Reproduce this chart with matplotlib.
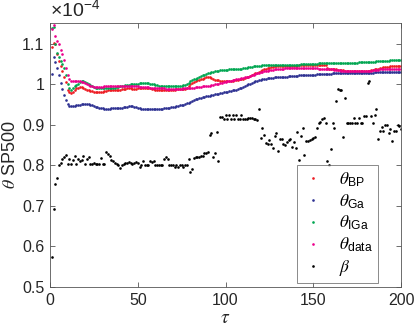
import matplotlib
matplotlib.use('Agg')
import matplotlib.pyplot as plt
import numpy as np

# tau axis: one estimate per window length 1..200 (values in units of 1e-4)
tau = np.arange(1, 201)

theta_bp = [
    1.093, 1.102, 1.100, 1.075, 1.058, 1.045, 1.032, 1.019, 1.006, 0.985,
    0.980, 0.978, 0.982, 0.986, 0.990, 0.992, 0.993, 0.993, 0.991, 0.989,
    0.987, 0.985, 0.984, 0.983, 0.982, 0.982, 0.981, 0.981, 0.982, 0.982,
    0.983, 0.984, 0.985, 0.985, 0.986, 0.986, 0.986, 0.986, 0.987, 0.987,
    0.988, 0.988, 0.989, 0.990, 0.990, 0.990, 0.989, 0.988, 0.989, 0.990,
    0.991, 0.991, 0.990, 0.990, 0.990, 0.990, 0.990, 0.989, 0.988, 0.987,
    0.987, 0.987, 0.987, 0.986, 0.986, 0.986, 0.987, 0.987, 0.987, 0.987,
    0.987, 0.988, 0.988, 0.988, 0.988, 0.988, 0.989, 0.992, 0.996, 1.000,
    1.003, 1.006, 1.008, 1.010, 1.011, 1.013, 1.014, 1.016, 1.017, 1.018,
    1.019, 1.016, 1.013, 1.011, 1.010, 1.010, 1.009, 1.009, 1.008, 1.008,
    1.008, 1.008, 1.009, 1.009, 1.010, 1.011, 1.011, 1.012, 1.013, 1.014,
    1.015, 1.017, 1.019, 1.021, 1.023, 1.025, 1.027, 1.029, 1.031, 1.033,
    1.035, 1.037, 1.039, 1.040, 1.041, 1.042, 1.043, 1.044, 1.045, 1.045,
    1.046, 1.046, 1.046, 1.046, 1.046, 1.046, 1.046, 1.046, 1.046, 1.046,
    1.046, 1.047, 1.047, 1.047, 1.047, 1.047, 1.047, 1.047, 1.047, 1.047,
    1.047, 1.047, 1.047, 1.047, 1.047, 1.047, 1.047, 1.040, 1.039, 1.038,
    1.038, 1.037, 1.037, 1.036, 1.036, 1.035, 1.035, 1.034, 1.034, 1.034,
    1.033, 1.033, 1.033, 1.033, 1.033, 1.033, 1.033, 1.033, 1.033, 1.033,
    1.034, 1.034, 1.035, 1.036, 1.037, 1.038, 1.039, 1.040, 1.041, 1.042,
    1.042, 1.043, 1.043, 1.044, 1.044, 1.044, 1.044, 1.044, 1.044, 1.044]

theta_ga = [
    1.026, 1.067, 1.056, 1.040, 1.023, 1.003, 0.988, 0.974, 0.962, 0.952,
    0.947, 0.946, 0.946, 0.947, 0.948, 0.949, 0.950, 0.951, 0.952, 0.952,
    0.952, 0.951, 0.950, 0.948, 0.946, 0.944, 0.943, 0.942, 0.941, 0.941,
    0.940, 0.940, 0.940, 0.940, 0.941, 0.941, 0.941, 0.941, 0.941, 0.941,
    0.942, 0.943, 0.944, 0.945, 0.946, 0.946, 0.946, 0.945, 0.943, 0.942,
    0.941, 0.940, 0.940, 0.940, 0.940, 0.940, 0.940, 0.940, 0.940, 0.940,
    0.940, 0.940, 0.940, 0.940, 0.941, 0.941, 0.942, 0.942, 0.943, 0.944,
    0.945, 0.946, 0.947, 0.948, 0.949, 0.950, 0.951, 0.953, 0.955, 0.957,
    0.959, 0.961, 0.963, 0.964, 0.966, 0.967, 0.968, 0.969, 0.970, 0.971,
    0.972, 0.973, 0.974, 0.975, 0.976, 0.977, 0.978, 0.979, 0.980, 0.981,
    0.982, 0.983, 0.984, 0.985, 0.986, 0.987, 0.988, 0.990, 0.992, 0.994,
    0.996, 0.998, 1.000, 1.002, 1.004, 1.006, 1.007, 1.008, 1.010, 1.011,
    1.012, 1.013, 1.014, 1.015, 1.015, 1.016, 1.016, 1.017, 1.017, 1.018,
    1.018, 1.018, 1.019, 1.019, 1.019, 1.020, 1.020, 1.020, 1.021, 1.021,
    1.021, 1.022, 1.022, 1.022, 1.023, 1.023, 1.023, 1.024, 1.024, 1.024,
    1.024, 1.025, 1.025, 1.025, 1.025, 1.026, 1.026, 1.026, 1.026, 1.026,
    1.027, 1.027, 1.027, 1.027, 1.027, 1.027, 1.028, 1.028, 1.028, 1.028,
    1.028, 1.028, 1.028, 1.028, 1.029, 1.029, 1.029, 1.029, 1.029, 1.029,
    1.029, 1.029, 1.029, 1.029, 1.030, 1.030, 1.030, 1.030, 1.030, 1.030,
    1.030, 1.030, 1.030, 1.030, 1.030, 1.031, 1.031, 1.031, 1.031, 1.031]

theta_iga = [
    1.140, 1.142, 1.100, 1.077, 1.068, 1.058, 1.050, 1.040, 1.022, 1.000,
    0.990, 0.985, 0.990, 0.995, 0.999, 1.002, 1.005, 1.007, 1.007, 1.006,
    1.004, 1.001, 0.998, 0.996, 0.994, 0.992, 0.991, 0.990, 0.990, 0.990,
    0.990, 0.991, 0.991, 0.992, 0.992, 0.992, 0.992, 0.993, 0.994, 0.995,
    0.996, 0.997, 0.998, 0.999, 0.999, 1.000, 1.000, 1.000, 1.001, 1.002,
    1.003, 1.003, 1.003, 1.003, 1.003, 1.003, 1.002, 1.001, 1.000, 0.999,
    0.998, 0.997, 0.997, 0.996, 0.996, 0.996, 0.996, 0.996, 0.996, 0.996,
    0.996, 0.996, 0.996, 0.997, 0.997, 0.998, 0.999, 1.001, 1.004, 1.007,
    1.010, 1.012, 1.014, 1.016, 1.018, 1.020, 1.022, 1.024, 1.026, 1.028,
    1.029, 1.030, 1.031, 1.032, 1.033, 1.034, 1.035, 1.035, 1.036, 1.036,
    1.036, 1.037, 1.037, 1.037, 1.038, 1.038, 1.038, 1.039, 1.039, 1.040,
    1.040, 1.041, 1.042, 1.043, 1.043, 1.044, 1.045, 1.045, 1.046, 1.046,
    1.047, 1.047, 1.048, 1.048, 1.048, 1.048, 1.048, 1.048, 1.048, 1.048,
    1.048, 1.048, 1.048, 1.048, 1.048, 1.048, 1.048, 1.048, 1.048, 1.048,
    1.048, 1.048, 1.049, 1.049, 1.049, 1.050, 1.050, 1.050, 1.051, 1.051,
    1.051, 1.051, 1.052, 1.052, 1.052, 1.052, 1.052, 1.052, 1.052, 1.052,
    1.052, 1.052, 1.052, 1.052, 1.052, 1.052, 1.052, 1.052, 1.052, 1.052,
    1.052, 1.052, 1.053, 1.053, 1.053, 1.054, 1.054, 1.054, 1.054, 1.055,
    1.055, 1.055, 1.056, 1.056, 1.056, 1.057, 1.057, 1.057, 1.057, 1.058,
    1.058, 1.058, 1.058, 1.059, 1.059, 1.059, 1.059, 1.060, 1.060, 1.060]

theta_data = [
    1.137, 1.147, 1.120, 1.108, 1.100, 1.085, 1.075, 1.060, 1.040, 1.022,
    1.012, 1.008, 1.007, 1.007, 1.007, 1.007, 1.007, 1.006, 1.005, 1.003,
    1.001, 0.999, 0.997, 0.995, 0.994, 0.993, 0.993, 0.993, 0.993, 0.994,
    0.995, 0.996, 0.997, 0.997, 0.997, 0.997, 0.997, 0.997, 0.997, 0.997,
    0.997, 0.997, 0.997, 0.996, 0.996, 0.996, 0.996, 0.996, 0.995, 0.995,
    0.994, 0.994, 0.993, 0.993, 0.993, 0.993, 0.992, 0.992, 0.991, 0.991,
    0.990, 0.990, 0.990, 0.990, 0.990, 0.989, 0.989, 0.989, 0.989, 0.989,
    0.989, 0.989, 0.989, 0.989, 0.989, 0.990, 0.990, 0.990, 0.991, 0.991,
    0.992, 0.992, 0.993, 0.993, 0.994, 0.994, 0.995, 0.995, 0.996, 0.996,
    0.997, 0.998, 0.999, 1.000, 1.001, 1.002, 1.003, 1.004, 1.005, 1.006,
    1.007, 1.008, 1.009, 1.010, 1.011, 1.012, 1.013, 1.014, 1.015, 1.016,
    1.017, 1.018, 1.019, 1.021, 1.022, 1.024, 1.026, 1.027, 1.029, 1.030,
    1.031, 1.032, 1.033, 1.034, 1.035, 1.036, 1.036, 1.037, 1.037, 1.038,
    1.038, 1.039, 1.039, 1.040, 1.040, 1.041, 1.041, 1.041, 1.041, 1.041,
    1.041, 1.041, 1.041, 1.041, 1.041, 1.041, 1.041, 1.040, 1.040, 1.040,
    1.040, 1.040, 1.039, 1.039, 1.039, 1.039, 1.039, 1.038, 1.038, 1.037,
    1.037, 1.036, 1.036, 1.035, 1.035, 1.034, 1.034, 1.034, 1.033, 1.033,
    1.033, 1.033, 1.033, 1.033, 1.033, 1.033, 1.033, 1.033, 1.033, 1.033,
    1.033, 1.034, 1.034, 1.035, 1.035, 1.036, 1.036, 1.037, 1.037, 1.038,
    1.038, 1.038, 1.039, 1.039, 1.039, 1.039, 1.039, 1.039, 1.039, 1.039]

beta = [
    0.573, 0.692, 0.753, 0.770, 0.800, 0.805, 0.815, 0.820, 0.826, 0.804,
    0.815, 0.804, 0.814, 0.823, 0.804, 0.815, 0.810, 0.814, 0.823, 0.804,
    0.815, 0.820, 0.804, 0.804, 0.807, 0.804, 0.804, 0.804, 0.818, 0.804,
    0.804, 0.832, 0.829, 0.822, 0.814, 0.810, 0.807, 0.804, 0.802, 0.793,
    0.800, 0.804, 0.805, 0.807, 0.808, 0.807, 0.804, 0.805, 0.808, 0.805,
    0.797, 0.802, 0.810, 0.800, 0.800, 0.800, 0.810, 0.808, 0.810, 0.800,
    0.800, 0.800, 0.800, 0.800, 0.815, 0.820, 0.815, 0.800, 0.800, 0.800,
    0.797, 0.800, 0.797, 0.800, 0.800, 0.797, 0.800, 0.800, 0.815, 0.783,
    0.790, 0.818, 0.820, 0.820, 0.820, 0.822, 0.822, 0.830, 0.830, 0.832,
    0.874, 0.880, 0.820, 0.830, 0.882, 0.810, 0.920, 0.920, 0.915, 0.925,
    0.915, 0.925, 0.915, 0.925, 0.915, 0.925, 0.915, 0.915, 0.925, 0.915,
    0.915, 0.915, 0.916, 0.916, 0.916, 0.915, 0.914, 0.913, 0.939, 0.867,
    0.892, 0.874, 0.855, 0.853, 0.863, 0.853, 0.842, 0.873, 0.881, 0.836,
    0.866, 0.866, 0.853, 0.851, 0.857, 0.862, 0.866, 0.845, 0.857, 0.843,
    0.883, 0.814, 0.873, 0.892, 0.826, 0.859, 0.861, 0.863, 0.865, 0.867,
    0.871, 0.893, 0.904, 0.908, 0.914, 0.917, 0.905, 0.810, 0.800, 0.840,
    0.904, 0.893, 0.960, 0.988, 0.985, 0.985, 0.869, 0.966, 0.904, 0.904,
    0.904, 0.904, 0.918, 0.904, 0.904, 0.918, 0.904, 0.904, 0.922, 0.922,
    1.004, 1.009, 0.922, 0.904, 0.925, 0.939, 0.865, 0.884, 0.895, 0.884,
    0.900, 0.899, 0.879, 0.889, 0.859, 0.885, 0.884, 0.900, 0.896, 0.890]

labels = [r'$\mathit{\theta}_{\mathrm{BP}}$', r'$\mathit{\theta}_{\mathrm{Ga}}$',
          r'$\mathit{\theta}_{\mathrm{IGa}}$', r'$\mathit{\theta}_{\mathrm{data}}$',
          r'$\mathit{\beta}$']
colors = ['#ed1c24', '#2e3192', '#00a651', '#ec008c', 'black']

plt.rcParams['font.family'] = ['Liberation Sans', 'DejaVu Sans']
plt.rcParams['mathtext.fontset'] = 'custom'
plt.rcParams['mathtext.rm'] = 'Liberation Sans'
plt.rcParams['mathtext.it'] = 'STIXGeneral:italic'

txt = '#262626'
fig = plt.figure(figsize=(4.15, 3.33), dpi=100)
ax = fig.add_axes([0.1205, 0.1381, 0.8458, 0.7937])

for y, c, lab in zip([theta_bp, theta_ga, theta_iga, theta_data, beta], colors, labels):
    ax.plot(tau, y, '.', color=c, ms=3.8, mew=0, label=lab)

ax.set_xlim(0, 200)
ax.set_ylim(0.5, 1.152)
ax.set_xticks([0, 50, 100, 150, 200])
ax.set_yticks([0.5, 0.6, 0.7, 0.8, 0.9, 1.0, 1.1])
ax.yaxis.set_major_formatter(plt.FuncFormatter(lambda v, p: f'{v:g}'))
ax.tick_params(direction='in', top=True, right=True, length=3.5, width=0.6,
               labelsize=11.5, colors=txt, color='#555555', pad=4)
for s in ax.spines.values():
    s.set_color('#555555')
    s.set_linewidth(0.6)

ax.set_xlabel(r'$\mathit{\tau}$', fontsize=14, color=txt, labelpad=2)
ax.set_ylabel(r'$\mathit{\theta}$ SP500', fontsize=13, color=txt, labelpad=2)
ax.text(0.0, 1.005, r'$\times\mathrm{10}^{\mathrm{-4}}$', transform=ax.transAxes,
        fontsize=14, color=txt, ha='left', va='bottom')

leg = ax.legend(loc='lower left', bbox_to_anchor=(0.704, 0.015), fontsize=12.5,
                frameon=True, fancybox=False, edgecolor='#555555',
                numpoints=1, markerscale=1.0, handlelength=1.2, handletextpad=0.9,
                labelspacing=0.2, borderpad=0.3, borderaxespad=0)
leg.get_frame().set_linewidth(0.6)

fig.savefig('out.png', dpi=100)
